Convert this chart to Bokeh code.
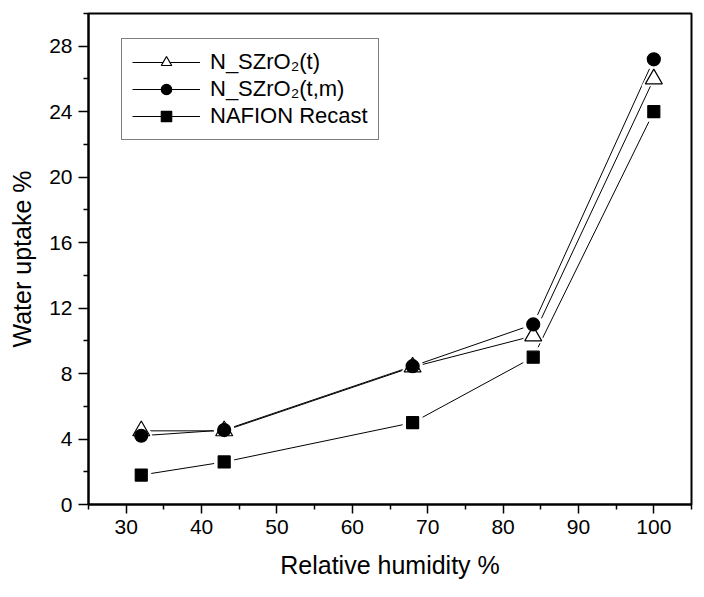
from bokeh.plotting import figure
from bokeh.models import Range1d, FixedTicker, Legend, LegendItem
from bokeh.embed import file_html
from bokeh.resources import INLINE

rh = [32, 43, 68, 84, 100]
szro2_t = [4.5, 4.5, 8.4, 10.3, 26.0]
szro2_tm = [4.2, 4.55, 8.45, 11.0, 27.2]
nafion = [1.8, 2.6, 5.0, 9.0, 24.0]

x_ticks = [30, 40, 50, 60, 70, 80, 90, 100]
x_minor = [25, 35, 45, 55, 65, 75, 85, 95, 105]
y_ticks = [0, 4, 8, 12, 16, 20, 24, 28]
y_minor = [2, 6, 10, 14, 18, 22, 26, 30]

FONT = "Liberation Sans"

p = figure(width=693, height=581, output_backend="svg", toolbar_location=None,
           x_range=Range1d(25, 105), y_range=Range1d(0, 30),
           min_border_left=88, min_border_right=2, min_border_top=13, min_border_bottom=74)
p.grid.visible = False
p.outline_line_color = "black"
p.outline_line_width = 2
p.background_fill_color = "white"
p.border_fill_color = "white"

for ax in (p.xaxis[0], p.yaxis[0]):
    ax.axis_line_width = 2
    ax.major_tick_line_width = 1.5
    ax.minor_tick_line_width = 1.5
    ax.major_tick_in = 0
    ax.minor_tick_in = 0
    ax.major_label_text_font = FONT
    ax.major_label_text_font_size = "21px"
    ax.major_label_text_color = "black"
    ax.axis_label_text_font = FONT
    ax.axis_label_text_font_size = "25px"
    ax.axis_label_text_font_style = "normal"
    ax.axis_label_text_color = "black"

p.xaxis.ticker = FixedTicker(ticks=x_ticks, minor_ticks=x_minor)
p.yaxis.ticker = FixedTicker(ticks=y_ticks, minor_ticks=y_minor)
p.xaxis.major_tick_out = 9
p.xaxis.minor_tick_out = 5
p.yaxis.major_tick_out = 10
p.yaxis.minor_tick_out = 5
p.xaxis.axis_label = "Relative humidity %"
p.yaxis.axis_label = "Water uptake %"
p.xaxis.major_label_standoff = 6
p.yaxis.major_label_standoff = 6
p.xaxis.axis_label_standoff = 14
p.yaxis.axis_label_standoff = 10

series = [
    ("N_SZrO\u2082(t)", szro2_t, "triangle", "white", 17),
    ("N_SZrO\u2082(t,m)", szro2_tm, "circle", "black", 13),
    ("NAFION Recast", nafion, "square", "black", 12),
]

lines = []
for name, ys, mk, fill, sz in series:
    lines.append(p.line(rh, ys, line_color="black", line_width=1))

for name, ys, mk, fill, sz in series:
    p.scatter(rh, ys, marker=mk, size=sz + 8, fill_color="white", line_color=None)

marks = []
for name, ys, mk, fill, sz in series:
    marks.append(p.scatter(rh, ys, marker=mk, size=sz, fill_color=fill,
                           line_color="black", line_width=1.2))

items = [LegendItem(label=s[0], renderers=[l, m]) for s, l, m in zip(series, lines, marks)]
legend = Legend(items=items, location=(33, 364))
legend.label_text_font = FONT
legend.label_text_font_size = "22px"
legend.label_text_color = "black"
legend.glyph_width = 68
legend.glyph_height = 26
legend.label_height = 26
legend.spacing = 1
legend.padding = 10
legend.label_standoff = 10
legend.border_line_color = "black"
legend.border_line_width = 1
legend.background_fill_alpha = 1
p.add_layout(legend, "center")

open("out.html", "w").write(file_html(p, INLINE))
